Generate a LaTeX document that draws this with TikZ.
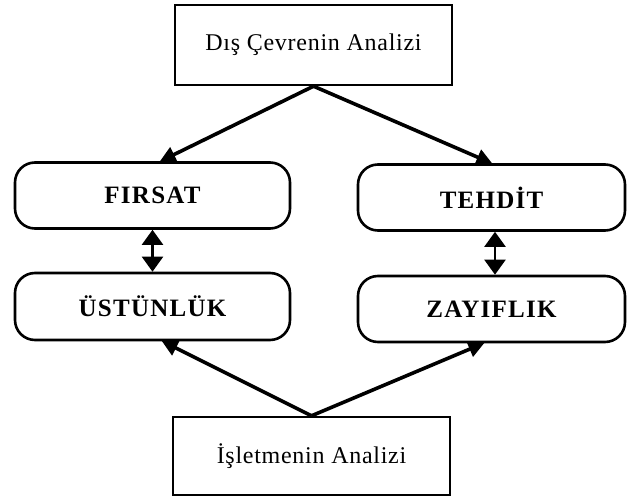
\documentclass[tikz,border=0pt]{standalone}
\usepackage{fontspec}
\setmainfont{Liberation Serif}
\usetikzlibrary{arrows.meta}
\begin{document}
\begin{tikzpicture}[x=1pt,y=-1pt,
  plainbox/.style={draw, line width=2.4pt, minimum width=277pt, minimum height=80pt,
    inner sep=0pt, font=\fontsize{24}{28}\selectfont\addfontfeature{LetterSpace=3}},
  factorbox/.style={draw, line width=2.6pt, rounded corners=20pt, minimum width=275pt,
    minimum height=66pt, inner sep=0pt,
    font=\fontsize{25}{29}\selectfont\bfseries\addfontfeature{LetterSpace=5}},
  feed/.style={line width=3.6pt, -{Triangle[length=16pt,width=16pt]}, shorten >=-1pt},
  link/.style={line width=2.2pt, {Triangle[length=15pt,width=21pt]}-{Triangle[length=15pt,width=21pt]}}
]
\useasboundingbox (0,0) rectangle (627,502);
\fill[white] (0,0) rectangle (627,502);

% environment and firm analysis boxes
\node[plainbox] (dis) at (313.5,45) {Dış Çevrenin Analizi};
\node[plainbox, minimum height=78pt] (isl) at (311.5,456) {İşletmenin Analizi};

% SWOT factor boxes
\node[factorbox] (firsat) at (152.5,195.5) {FIRSAT};
\node[factorbox, minimum width=267pt] (tehdit) at (491.5,197.5) {TEHDİT};
\node[factorbox, minimum height=67pt] (ustun) at (152.5,306.5) {ÜSTÜNLÜK};
\node[factorbox, minimum width=267pt] (zayif) at (491.5,309) {ZAYIFLIK};

% external analysis feeds opportunities and threats
\draw[feed] (dis.south) -- ([xshift=8pt]firsat.north);
\draw[feed] (dis.south) -- (tehdit.north);

% firm analysis feeds strengths and weaknesses
\draw[feed] (isl.north) -- ([xshift=10pt]ustun.south);
\draw[feed] (isl.north) -- ([xshift=-8pt]zayif.south);

% pairings
\draw[link] (firsat.south) -- (ustun.north);
\draw[link] ([xshift=3.5pt]tehdit.south) -- ([xshift=3.5pt]zayif.north);
\end{tikzpicture}
\end{document}
